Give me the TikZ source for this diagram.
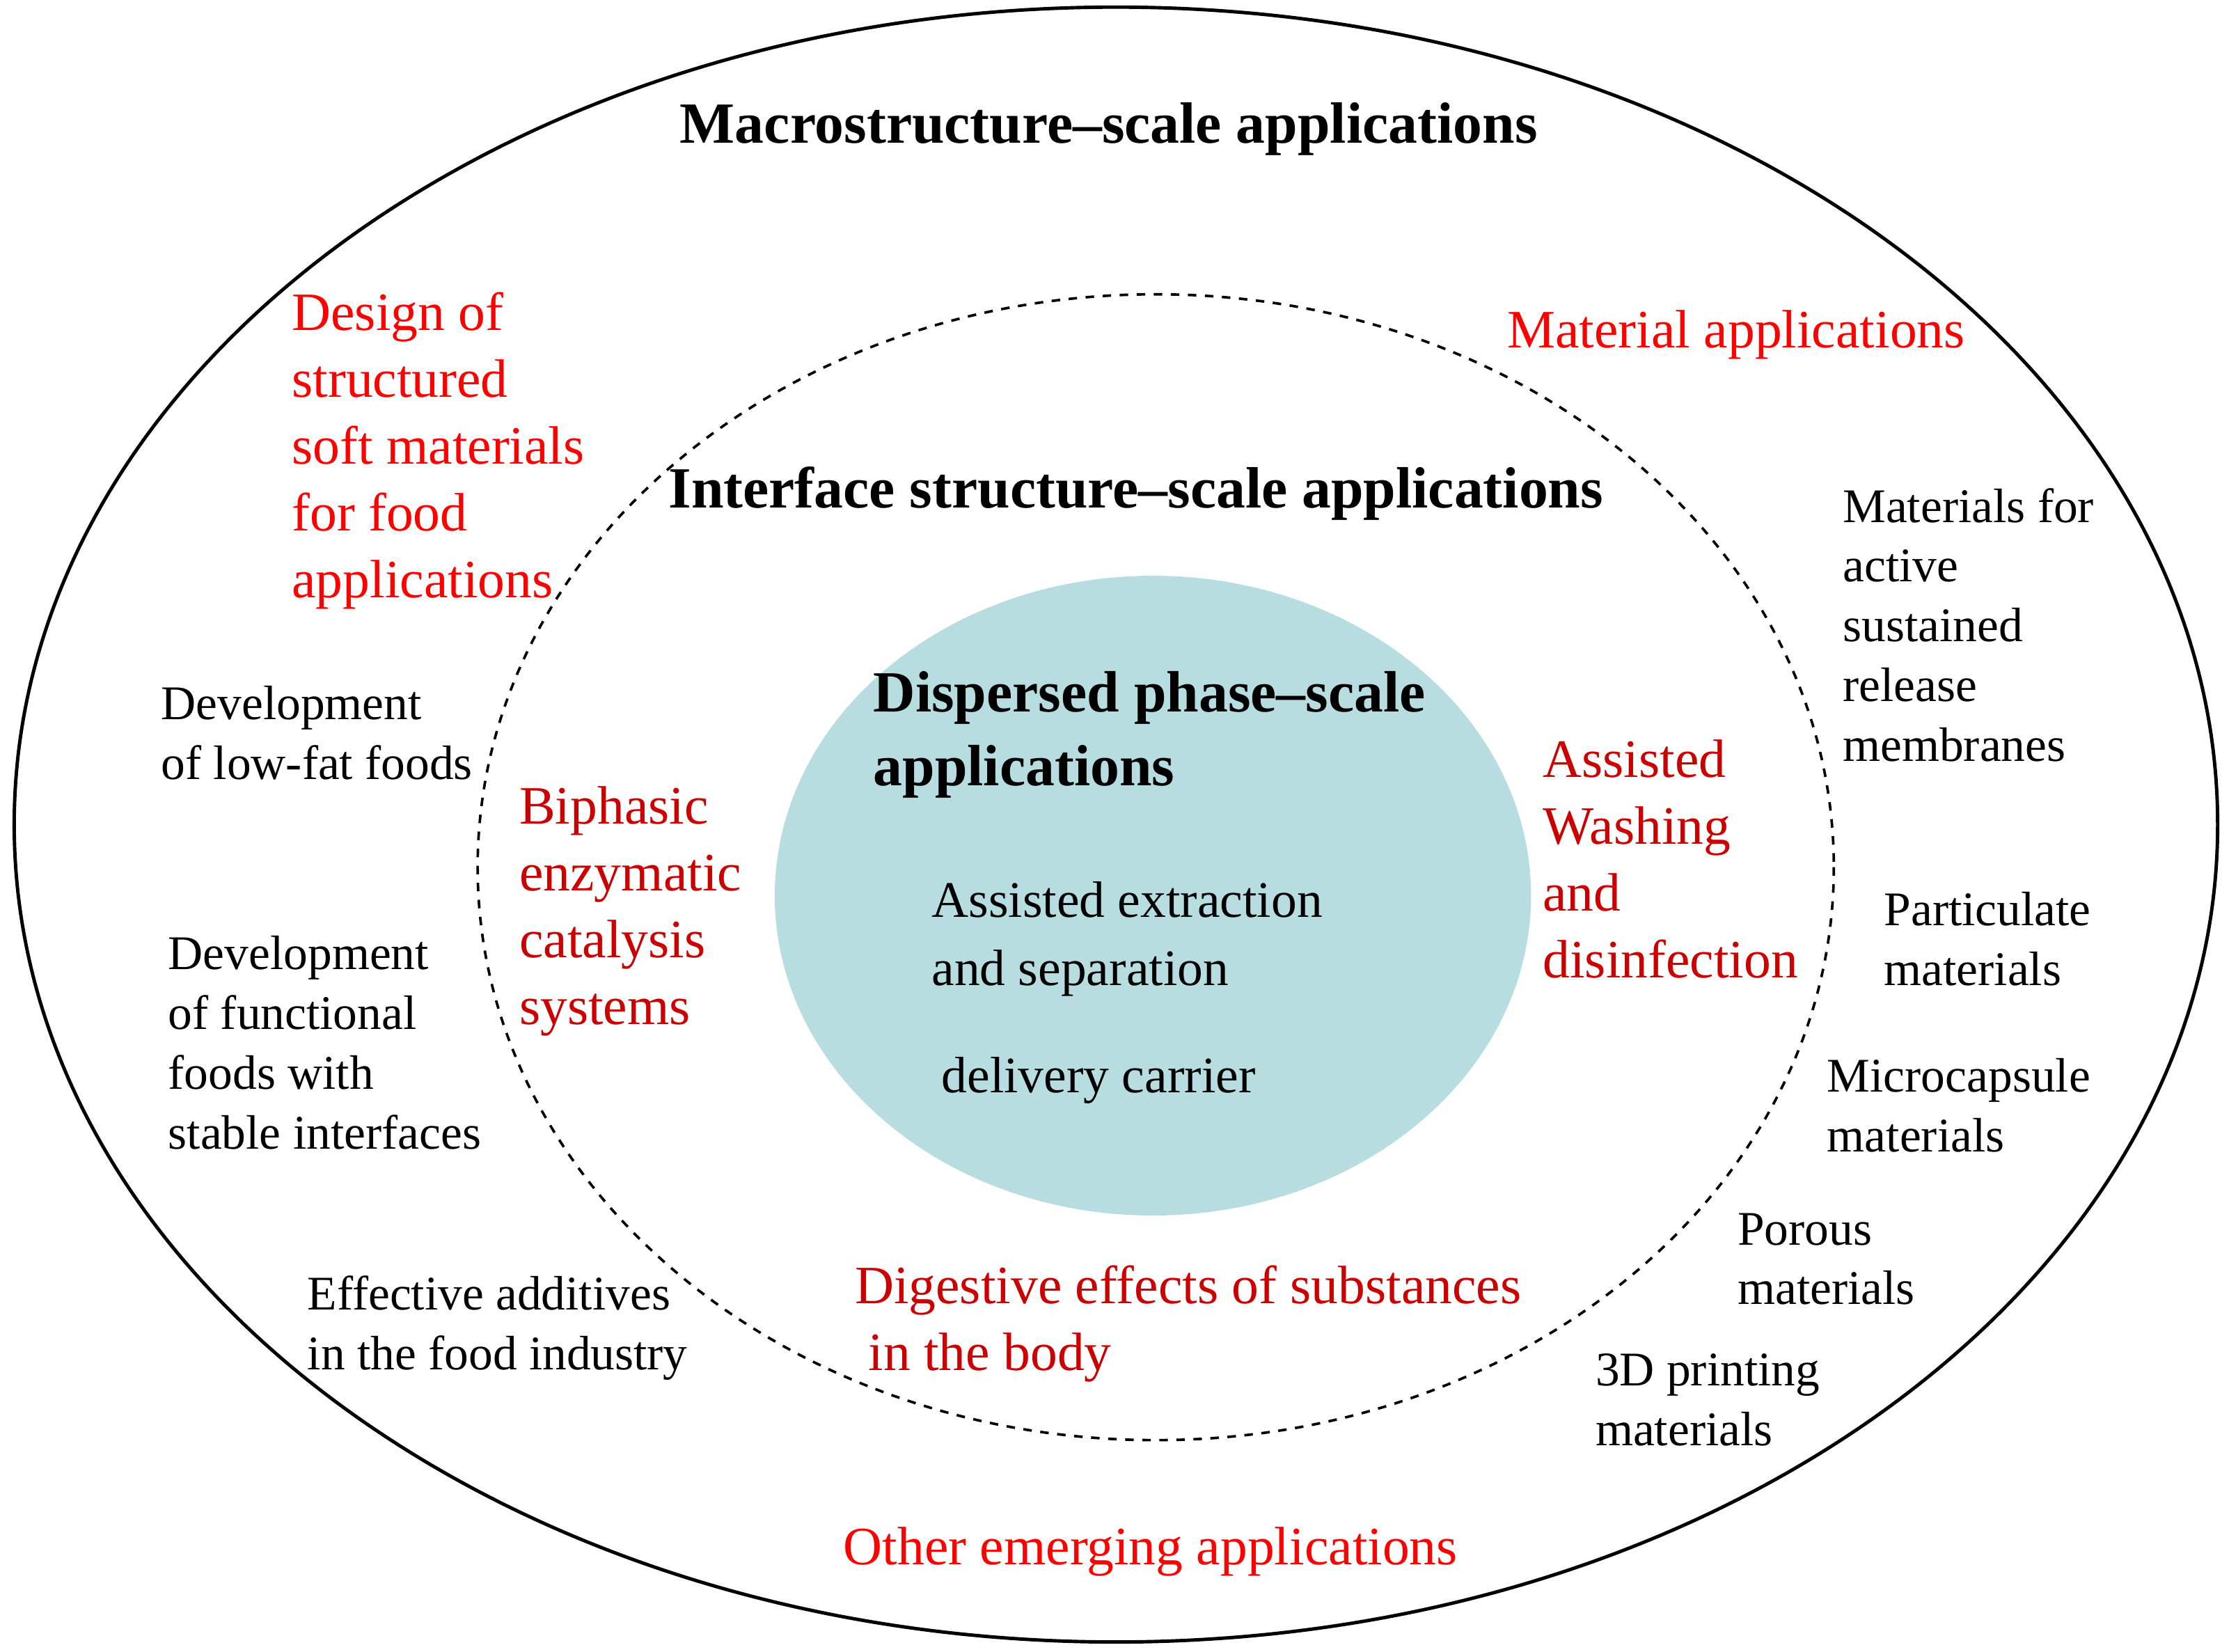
\documentclass[tikz,border=0pt]{standalone}
\usepackage{fontspec}
\setmainfont{Liberation Serif}
\begin{document}
\begin{tikzpicture}[x=0.5pt,y=-0.5pt,
  bt/.style={anchor=north west,align=left,inner sep=0pt,font=\fontsize{17}{21}\selectfont},
  rt/.style={anchor=north west,align=left,inner sep=0pt,text=red,font=\fontsize{19}{23.5}\selectfont},
  dr/.style={rt,text=red!80!black},
  hd/.style={anchor=north west,align=left,inner sep=0pt,font=\bfseries\fontsize{20.5}{26}\selectfont}]
\useasboundingbox (0,0) rectangle (1568,1162);
\definecolor{teal1}{HTML}{B8DDE0}
\draw[line width=1.2pt] (785,580) ellipse [x radius=775, y radius=575];
\draw[dashed,line width=0.9pt] (813,610) ellipse [x radius=477, y radius=403];
\fill[teal1] (811,630) ellipse [x radius=266, y radius=225];
\node[hd] (t1) at (478,72) {Macrostructure--scale applications};
\node[hd] (t2) at (470,328) {Interface structure--scale applications};
\node[hd] (t3) at (614,472) {Dispersed phase--scale\\applications};
\node[rt] (r1) at (205,205) {Design of\\structured\\soft materials\\for food\\applications};
\node[rt] (r2) at (1060,218) {Material applications};
\node[rt] (r3) at (593,1074) {Other emerging applications};
\node[dr] (d1) at (365,553) {Biphasic\\enzymatic\\catalysis\\systems};
\node[dr] (d2) at (1085,520) {Assisted\\Washing\\and\\disinfection};
\node[dr] (d3) at (601,890) {Digestive effects of substances\\\ in the body};
\node[bt,font=\fontsize{18}{24}\selectfont] (c1) at (655,620) {Assisted extraction\\and separation};
\node[bt,font=\fontsize{18}{24}\selectfont] (c2) at (662,743) {delivery carrier};
\node[bt] (b1) at (113,482) {Development\\of low-fat foods};
\node[bt] (b2) at (118,658) {Development\\of functional\\foods with\\stable interfaces};
\node[bt] (b3) at (216,897) {Effective additives\\in the food industry};
\node[bt] (b4) at (1296,343) {Materials for\\active\\sustained\\release\\membranes};
\node[bt] (b5) at (1325,627) {Particulate\\materials};
\node[bt] (b6) at (1285,744) {Microcapsule\\materials};
\node[bt] (b7) at (1222,853) {Porous\\materials};
\node[bt] (b8) at (1122,952) {3D printing\\materials};
\end{tikzpicture}
\end{document}
